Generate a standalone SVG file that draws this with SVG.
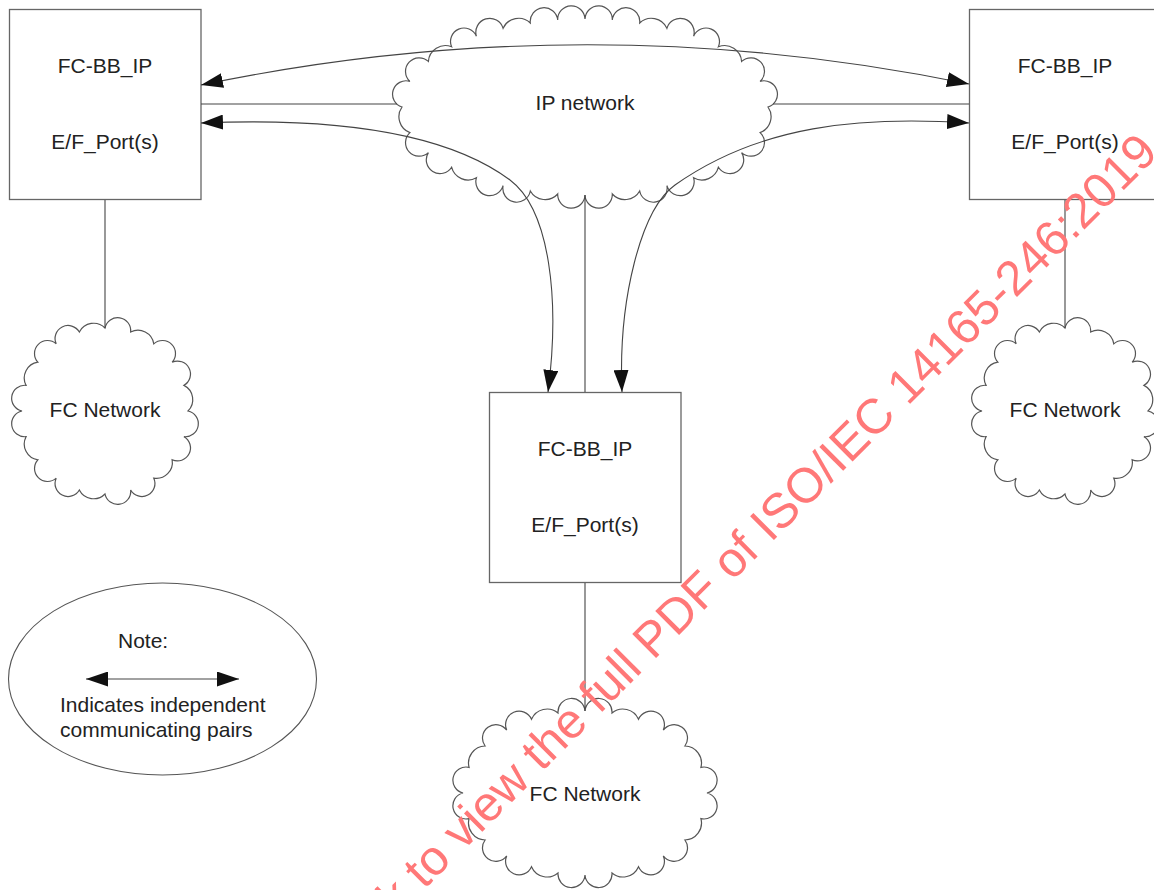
<svg xmlns="http://www.w3.org/2000/svg" xmlns:xlink="http://www.w3.org/1999/xlink" width="1154" height="890" viewBox="0 0 1154 890">
<style>
.box{fill:#fff;stroke:#666;stroke-width:1.3}
.cloud{fill:#fff;stroke:#555;stroke-width:1.2}
.ln{fill:none;stroke:#444;stroke-width:1.1}
.arr{fill:none;stroke:#444;stroke-width:1.1;marker-start:url(#ah);marker-end:url(#ah)}
.lbl{font-family:"Liberation Sans",Arial,sans-serif;font-size:21px;fill:#222;text-anchor:middle}
.lgt{font-family:"Liberation Sans",Arial,sans-serif;font-size:21px;fill:#222}
.wm{font-family:"Liberation Sans",Arial,sans-serif;font-size:49px;fill:#ff7878}
</style>
<defs>
<marker id="ah" viewBox="0 0 22 15" refX="22" refY="7.5" markerWidth="22" markerHeight="15" markerUnits="userSpaceOnUse" orient="auto-start-reverse"><path d="M0,0 L22,7.5 L0,15 Z" fill="#111"/></marker>
<path id="fcCloud" d="M0,-83 A13,13 0 0 1 25.65,-78.94 A16,16 0 0 1 48.79,-67.15 A13,13 0 0 1 67.15,-48.79 A13,13 0 0 1 78.94,-25.65 A16,16 0 0 1 83,0 A13,13 0 0 1 78.94,25.65 A13,13 0 0 1 67.15,48.79 A16,16 0 0 1 48.79,67.15 A13,13 0 0 1 25.65,78.94 A13,13 0 0 1 0,83 A16,16 0 0 1 -25.65,78.94 A13,13 0 0 1 -48.79,67.15 A13,13 0 0 1 -67.15,48.79 A16,16 0 0 1 -78.94,25.65 A13,13 0 0 1 -83,0 A13,13 0 0 1 -78.94,-25.65 A16,16 0 0 1 -67.15,-48.79 A13,13 0 0 1 -48.79,-67.15 A13,13 0 0 1 -25.65,-78.94 A16,16 0 0 1 0,-83 Z"/>
</defs>

<g id="ip-network">
<path class="cloud" transform="translate(585,107)" d="M0,-88 A13 13 0 0 1 27.3,-87 A13 13 0 0 1 54.7,-84 A17 17 0 0 1 81.9,-78.7 A13 13 0 0 1 108.6,-70.8 A13 13 0 0 1 133.4,-60.2 A17 17 0 0 1 156.6,-45.6 A13 13 0 0 1 175.1,-25.6 A13 13 0 0 1 183,0 A17 17 0 0 1 175.1,25.6 A13 13 0 0 1 156.6,45.6 A13 13 0 0 1 133.4,60.2 A17 17 0 0 1 108.6,70.8 A13 13 0 0 1 81.9,78.7 A13 13 0 0 1 54.7,84 A17 17 0 0 1 27.3,87 A13 13 0 0 1 0,88 A13 13 0 0 1 -27.3,87 A17 17 0 0 1 -54.7,84 A13 13 0 0 1 -81.9,78.7 A13 13 0 0 1 -108.6,70.8 A17 17 0 0 1 -133.4,60.2 A13 13 0 0 1 -156.6,45.6 A13 13 0 0 1 -175.1,25.6 A17 17 0 0 1 -183,0 A13 13 0 0 1 -175.1,-25.6 A13 13 0 0 1 -156.6,-45.6 A17 17 0 0 1 -133.4,-60.2 A13 13 0 0 1 -108.6,-70.8 A13 13 0 0 1 -81.9,-78.7 A17 17 0 0 1 -54.7,-84 A13 13 0 0 1 -27.3,-87 A13 13 0 0 1 0,-88 Z"/>
<text class="lbl" x="585" y="110">IP network</text>
</g>

<g id="box-left">
<rect class="box" x="9.5" y="9.5" width="191.5" height="190"/>
<text class="lbl" x="105" y="73">FC-BB_IP</text>
<text class="lbl" x="105" y="149">E/F_Port(s)</text>
</g>

<g id="box-right">
<rect class="box" x="969.5" y="9.5" width="191.5" height="190"/>
<text class="lbl" x="1065" y="73">FC-BB_IP</text>
<text class="lbl" x="1065" y="149">E/F_Port(s)</text>
</g>

<g id="box-center">
<rect class="box" x="489.5" y="392.5" width="191.5" height="190"/>
<text class="lbl" x="585" y="456">FC-BB_IP</text>
<text class="lbl" x="585" y="532">E/F_Port(s)</text>
</g>

<g id="fc-left">
<use xlink:href="#fcCloud" href="#fcCloud" class="cloud" x="105" y="411"/>
<text class="lbl" x="105" y="417">FC Network</text>
</g>

<g id="fc-right">
<use xlink:href="#fcCloud" href="#fcCloud" class="cloud" x="1065" y="411"/>
<text class="lbl" x="1065" y="417">FC Network</text>
</g>

<g id="fc-bottom">
<path class="cloud" transform="translate(585,793)" d="M0,-82 A13 13 0 0 1 27,-80 A17 17 0 0 1 53.5,-73.7 A13 13 0 0 1 78.3,-62.9 A13 13 0 0 1 99.9,-47 A17 17 0 0 1 115.9,-25.6 A13 13 0 0 1 122,0 A13 13 0 0 1 115.9,25.6 A17 17 0 0 1 99.9,47 A13 13 0 0 1 78.3,62.9 A13 13 0 0 1 53.5,73.7 A17 17 0 0 1 27,80 A13 13 0 0 1 0,82 A13 13 0 0 1 -27,80 A17 17 0 0 1 -53.5,73.7 A13 13 0 0 1 -78.3,62.9 A13 13 0 0 1 -99.9,47 A17 17 0 0 1 -115.9,25.6 A13 13 0 0 1 -122,0 A13 13 0 0 1 -115.9,-25.6 A17 17 0 0 1 -99.9,-47 A13 13 0 0 1 -78.3,-62.9 A13 13 0 0 1 -53.5,-73.7 A17 17 0 0 1 -27,-80 A13 13 0 0 1 0,-82 Z"/>
<text class="lbl" x="585" y="801">FC Network</text>
</g>

<g id="connectors">
<line class="ln" x1="201" y1="104" x2="397" y2="104"/>
<line class="ln" x1="773" y1="104" x2="969" y2="104"/>
<line class="ln" x1="585" y1="195" x2="585" y2="392"/>
<line class="ln" x1="105" y1="200" x2="105" y2="328"/>
<line class="ln" x1="1065" y1="200" x2="1065" y2="328"/>
<line class="ln" x1="585" y1="583" x2="585" y2="711"/>
<path class="arr" d="M201,85 Q585,5 969,84"/>
<path class="arr" d="M201,123 C320,118 440,128 510,180 C550,210 560,300 548,392"/>
<path class="arr" d="M969,123 C860,116 760,125 675,185 C641,209 618,300 622,392"/>
</g>

<g id="legend">
<ellipse cx="162.5" cy="679" rx="154" ry="96" fill="#fff" stroke="#555" stroke-width="1.1"/>
<text class="lgt" x="118" y="648">Note:</text>
<line class="arr" x1="86" y1="679" x2="239" y2="679"/>
<text class="lgt" x="60" y="712">Indicates independent</text>
<text class="lgt" x="60" y="737">communicating pairs</text>
</g>

<g id="watermark">
<text class="wm" x="339.4" y="974.6" transform="rotate(-45 339.4 974.6)">Click to view the full PDF of ISO/IEC 14165-246:2019</text>
</g>
</svg>
